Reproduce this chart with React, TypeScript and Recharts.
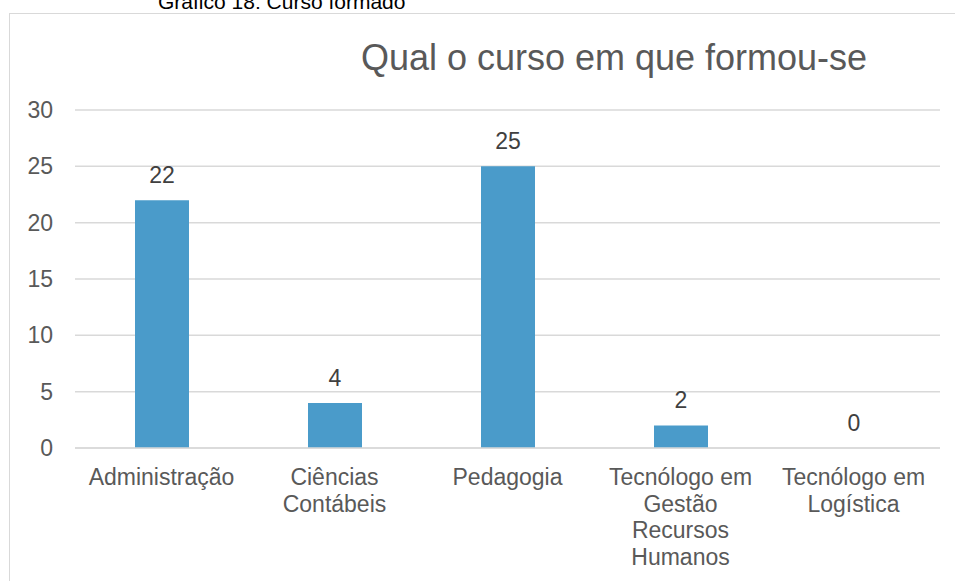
import React from 'react';
import { BarChart, Bar, XAxis, YAxis, CartesianGrid, LabelList, Cell } from 'recharts';

// dados do gráfico
const cursos = [
  'Administração',
  'Ciências\nContábeis',
  'Pedagogia',
  'Tecnólogo em\nGestão\nRecursos\nHumanos',
  'Tecnólogo em\nLogística',
];
const quantidade = [22, 4, 25, 2, 0];
const yTicks = [0, 5, 10, 15, 20, 25, 30];

const chartData = cursos.map((curso, i) => ({ curso, quantidade: quantidade[i] }));

const FONT = '"Liberation Sans", Arial, sans-serif';

const CursoTick = ({ x, y, payload }: any) => {
  const lines = String(payload.value).split('\n');
  return (
    <text x={x} y={y + 29} textAnchor="middle" fill="#595959" fontSize={23} fontFamily={FONT}>
      {lines.map((line, i) => (
        <tspan key={i} x={x} dy={i === 0 ? 0 : 26.7}>
          {line}
        </tspan>
      ))}
    </text>
  );
};

const ValorLabel = (props: any) => {
  const { x, y, width, height, value } = props;
  // barra de valor 0 tem altura mínima de 1px (invisível), rótulo fica sobre o eixo
  const top = value === 0 ? y + height : y;
  return (
    <text x={x + width / 2} y={top - 17} textAnchor="middle" fill="#404040" fontSize={23} fontFamily={FONT}>
      {value}
    </text>
  );
};

export default function App() {
  return (
    <div style={{ position: 'absolute', left: 0, top: 0, width: 955, height: 581, overflow: 'hidden', background: '#fff' }}>
      <div
        style={{
          position: 'absolute', left: 158, top: -9, fontSize: 21, lineHeight: '21px',
          fontFamily: FONT, color: '#000', whiteSpace: 'nowrap',
        }}
      >
        Gráfico 18: Curso formado
      </div>
      <div
        style={{
          position: 'absolute', left: 9, top: 13, width: 960, height: 600,
          border: '1.5px solid #d9d9d9', boxSizing: 'border-box',
        }}
      />
      <div
        style={{
          position: 'absolute', left: 0, top: 39.5, width: 1228, textAlign: 'center',
          fontSize: 36, lineHeight: '36px', fontFamily: FONT, color: '#595959', whiteSpace: 'nowrap',
        }}
      >
        Qual o curso em que formou-se
      </div>
      <div style={{ position: 'absolute', left: 0, top: 0 }}>
        <BarChart
          width={955}
          height={581}
          data={chartData}
          margin={{ top: 110, right: 15, bottom: 103, left: 0 }}
        >
          <CartesianGrid vertical={false} stroke="#d9d9d9" strokeWidth={1.5} />
          <XAxis
            dataKey="curso"
            axisLine={{ stroke: '#d9d9d9', strokeWidth: 1.5 }}
            tickLine={false}
            tick={<CursoTick />}
            interval={0}
          />
          <YAxis
            width={75}
            domain={[0, 30]}
            ticks={yTicks}
            axisLine={false}
            tickLine={false}
            tickSize={0}
            tickMargin={22}
            tick={{ fill: '#595959', fontSize: 23, fontFamily: FONT }}
          />
          <Bar dataKey="quantidade" fill="#4a9bca" barSize={54} minPointSize={1} isAnimationActive={false}>
            {chartData.map((d, i) => (
              <Cell key={i} fill={d.quantidade === 0 ? 'transparent' : '#4a9bca'} />
            ))}
            <LabelList dataKey="quantidade" content={<ValorLabel />} />
          </Bar>
        </BarChart>
      </div>
    </div>
  );
}
